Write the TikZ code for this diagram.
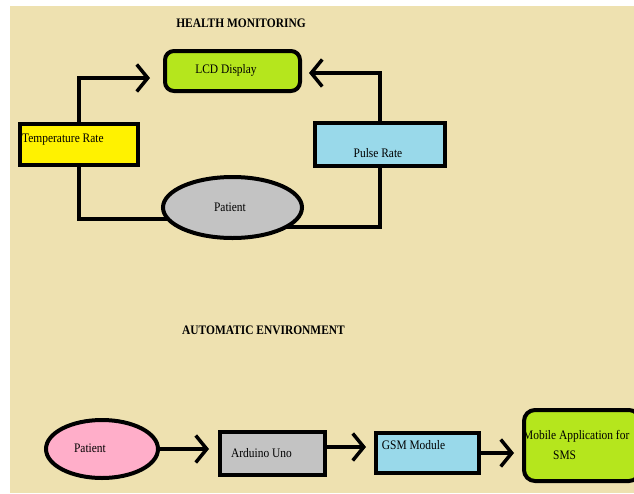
\documentclass[tikz,border=0pt]{standalone}
\usepackage{fontspec}
\setmainfont{Liberation Serif}
\newfontfamily\narrowserif[FakeStretch=0.88]{Liberation Serif}
\usetikzlibrary{arrows.meta,shapes.geometric}
\definecolor{bgbeige}{RGB}{238,225,176}
\definecolor{pgreen}{RGB}{181,230,29}
\definecolor{pyellow}{RGB}{255,242,0}
\definecolor{pblue}{RGB}{153,217,234}
\definecolor{pgray}{RGB}{195,195,195}
\definecolor{ppink}{RGB}{255,174,201}
\pgfdeclarelayer{bgl}
\pgfdeclarelayer{lines}
\pgfsetlayers{bgl,lines,main}
\tikzset{
  box/.style={draw=black, line width=4pt, inner sep=0pt},
  rbox/.style={box, rounded corners=9pt},
  oval/.style={box, ellipse},
  lbl/.style={inner sep=0pt, font=\narrowserif\fontsize{13}{20}\selectfont, text=black},
  ttl/.style={inner sep=0pt, font=\narrowserif\fontsize{13}{15}\selectfont\bfseries},
  conn/.style={draw=black, line width=3.5pt},
  arr/.style={conn, -{Straight Barb[length=11pt,width=27pt]}},
}
\begin{document}
\begin{tikzpicture}[x=1pt,y=-1pt]
\useasboundingbox (0,0) rectangle (634,493);
\begin{pgfonlayer}{bgl}
\fill[bgbeige] (10,6) rectangle (634,493);
\end{pgfonlayer}
% titles
\node[ttl] (t1) at (241,23) {HEALTH MONITORING};
\node[ttl] (t2) at (263.5,330) {AUTOMATIC ENVIRONMENT};
% health monitoring
\node[rbox, fill=pgreen, minimum width=135pt, minimum height=40pt,
  label={[lbl, xshift=-6.5pt, yshift=1pt]center:LCD Display}] (lcd) at (232.5,71) {};
\node[box, fill=pyellow, minimum width=118pt, minimum height=41pt,
  label={[lbl, anchor=west, xshift=4pt, yshift=4.5pt]west:Temperature Rate}] (temp) at (79,144.5) {};
\node[box, fill=pblue, minimum width=130pt, minimum height=43pt,
  label={[lbl, xshift=-2pt, yshift=-8.5pt]center:Pulse Rate}] (pulse) at (380,144.5) {};
\node[oval, fill=pgray, minimum width=139pt, minimum height=61pt,
  label={[lbl, xshift=-2.5pt]center:Patient}] (pat) at (232.5,207.5) {};
\coordinate (ta) at (150,78);
\coordinate (pa) at (309,73);
\coordinate (pl) at (200,219);
\coordinate (pr) at (260,227);
\begin{pgfonlayer}{lines}
\draw[arr] (temp.north) |- (ta);
\draw[arr] (pulse.north) |- (pa);
\draw[conn] (temp.south) |- (pl);
\draw[conn] (pulse.south) |- (pr);
\end{pgfonlayer}
% automatic environment
\node[oval, fill=ppink, minimum width=112pt, minimum height=58pt,
  label={[lbl, xshift=-12pt, yshift=1pt]center:Patient}] (pat2) at (102,449) {};
\node[box, fill=pgray, minimum width=105pt, minimum height=43pt,
  label={[lbl, xshift=-11pt]center:Arduino Uno}] (ard) at (272.5,453.5) {};
\node[box, fill=pblue, minimum width=103pt, minimum height=40pt,
  label={[lbl, xshift=-14pt, yshift=8pt]center:GSM Module}] (gsm) at (427.5,453) {};
\node[rbox, fill=pgreen, rounded corners=11pt, minimum width=116pt, minimum height=71pt,
  label={[lbl, anchor=west, align=left, xshift=1pt, yshift=0.5pt]west:Mobile Application for\\\hspace*{30pt}SMS}] (mob) at (582,445.5) {};
\begin{pgfonlayer}{lines}
\draw[arr, shorten >=9pt] (pat2.east) -- (pat2.east -| ard.west);
\draw[arr, shorten >=8pt] ([yshift=6.5pt]ard.east) -- ([yshift=6.5pt]ard.east -| gsm.west);
\draw[arr, shorten >=8pt] (gsm.east) -- (gsm.east -| mob.west);
\end{pgfonlayer}
\end{tikzpicture}
\end{document}
